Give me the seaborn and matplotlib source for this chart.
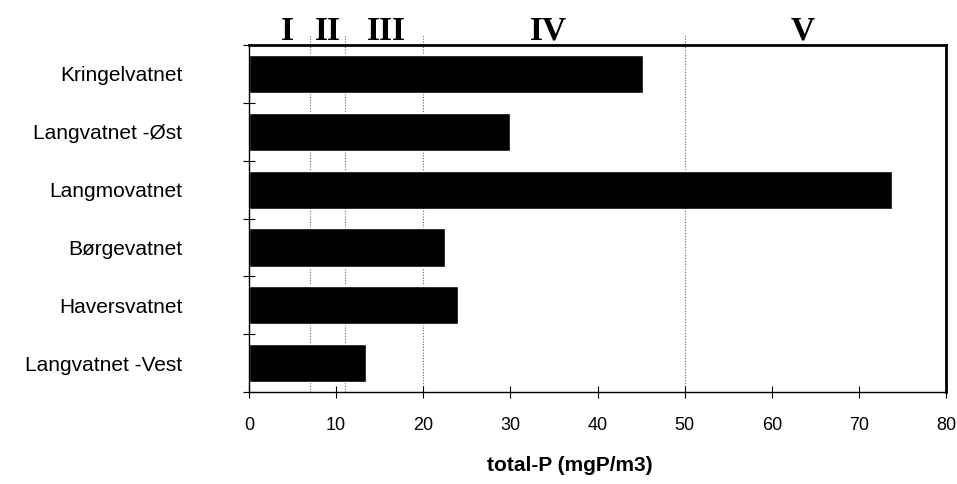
import matplotlib
matplotlib.use("Agg")
import matplotlib.pyplot as plt
import seaborn as sns
import pandas as pd
import numpy as np

# =========================================================
# DATA
# =========================================================

lakes = [
    "Kringelvatnet",
    "Langvatnet -Øst",
    "Langmovatnet",
    "Børgevatnet",
    "Haversvatnet",
    "Langvatnet -Vest",
]

total_p = [45.2, 30.0, 73.8, 22.5, 24.0, 13.4]

# class limits (SFT) and class names
class_limits = [7, 11, 20, 50]
class_names = ["I", "II", "III", "IV", "V"]
class_label_x = [4.4, 9.1, 15.8, 34.3, 63.5]

df = pd.DataFrame({"Lake": lakes, "TotalP": total_p})

# =========================================================
# PLOT
# =========================================================

sns.set_style("white")
plt.rcParams["font.family"] = ["Liberation Sans", "DejaVu Sans"]
plt.rcParams["text.color"] = "black"
plt.rcParams["xtick.color"] = "black"
plt.rcParams["ytick.color"] = "black"
plt.rcParams["axes.labelcolor"] = "black"

fig = plt.figure(figsize=(9.57, 4.84), dpi=100)
ax = fig.add_axes([0.260, 0.190, 0.729, 0.717])

sns.barplot(
    data=df,
    y="Lake",
    x="TotalP",
    orient="h",
    color="black",
    saturation=1,
    width=0.66,
    ax=ax,
)

# class boundary lines
for lim in class_limits:
    ax.axvline(lim, ymin=0, ymax=1.03, color="#666666", lw=0.8,
               ls=(0, (1, 1.5)), zorder=0, clip_on=False)

# roman numerals above the frame
for name, xpos in zip(class_names, class_label_x):
    ax.text(xpos, 0.995, name, transform=ax.get_xaxis_transform(),
            ha="center", va="bottom", fontsize=24, fontweight="bold",
            family="Liberation Serif", color="black")

ax.set_xlim(0, 80)
ax.set_ylim(len(lakes) - 0.5, -0.5)
ax.set_xticks(np.arange(0, 81, 10))

# y ticks at category boundaries, labels at centres
ax.set_yticks(np.arange(len(lakes)))
ax.set_yticklabels(lakes, fontsize=15)
ax.set_yticks(np.arange(-0.5, len(lakes), 1.0), minor=True)
ax.tick_params(axis="y", which="major", length=0, pad=48, left=True)
ax.tick_params(axis="y", which="minor", length=8, direction="inout",
               width=0.8, left=True)
ax.tick_params(axis="x", which="major", length=8, direction="inout",
               width=0.8, labelsize=13, pad=14, bottom=True)

ax.set_xlabel("total-P (mgP/m3)", fontsize=15, fontweight="bold")
ax.xaxis.set_label_coords(0.46, -0.185)
ax.set_ylabel("")

for side in ["left", "bottom"]:
    ax.spines[side].set_linewidth(1.0)
    ax.spines[side].set_color("black")
for side in ["top", "right"]:
    ax.spines[side].set_linewidth(2.0)
    ax.spines[side].set_color("black")
    ax.spines[side].set_visible(True)

fig.savefig("out.png", dpi=100)
